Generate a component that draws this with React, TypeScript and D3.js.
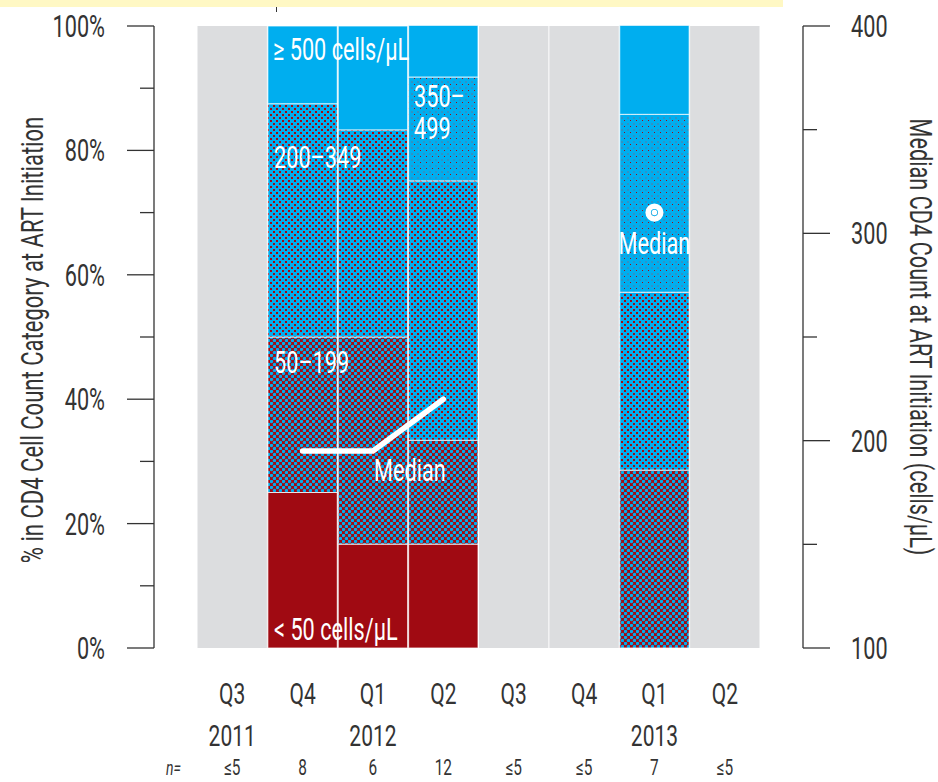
import React from "react";
import * as d3 from "d3";

const quarters = ["Q3", "Q4", "Q1", "Q2", "Q3", "Q4", "Q1", "Q2"];
const years = ["2011", "", "2012", "", "", "", "2013", ""];
const nCounts = ["≤5", "8", "6", "12", "≤5", "≤5", "7", "≤5"];
// percent of patients per CD4 category (null = n ≤ 5, not shown)
const lt50: (number | null)[] = [null, 25, 16.7, 16.7, null, null, 0, null];
const c50_199: (number | null)[] = [null, 25, 33.3, 16.7, null, null, 28.6, null];
const c200_349: (number | null)[] = [null, 37.5, 33.3, 41.7, null, null, 28.6, null];
const c350_499: (number | null)[] = [null, 0, 0, 16.7, null, null, 28.6, null];
const ge500: (number | null)[] = [null, 12.5, 16.7, 8.3, null, null, 14.3, null];
const medians: (number | null)[] = [null, 195, 195, 220, null, null, 310, null];
const leftTicks = [0, 20, 40, 60, 80, 100];
const rightTicks = [100, 200, 300, 400];

const FONT = "Roboto, 'Liberation Sans', sans-serif";
const SX = 0.7;
const BLUE = "#00aeef";
const RED = "#a00a12";
const GRAY = "#dcdddf";
const INK = "#333333";

type TP = {
  x: number;
  y: number;
  size: number;
  fill?: string;
  anchor?: "start" | "middle" | "end";
  rotate?: number;
  italic?: boolean;
  children: React.ReactNode;
};
function T({ x, y, size, fill = INK, anchor = "start", rotate = 0, italic, children }: TP) {
  return (
    <text
      transform={`translate(${x},${y}) rotate(${rotate}) scale(${SX},1)`}
      fontSize={size}
      fill={fill}
      textAnchor={anchor}
      fontStyle={italic ? "italic" : "normal"}
    >
      {children}
    </text>
  );
}

export default function App() {
  const W = 938, H = 782;
  const idx = quarters.map((_, i) => i);
  const x = d3.scaleBand<number>().domain(idx).range([197, 760]).padding(0);
  const y = d3.scaleLinear().domain([0, 100]).range([648, 26]);
  const yR = d3.scaleLinear().domain([100, 400]).range([648, 26]);
  const bw = x.bandwidth();

  const series = [
    { key: "lt50", vals: lt50, fill: RED },
    { key: "c50", vals: c50_199, fill: "url(#p50)" },
    { key: "c200", vals: c200_349, fill: "url(#p200)" },
    { key: "c350", vals: c350_499, fill: "url(#p350)" },
    { key: "ge500", vals: ge500, fill: BLUE },
  ];

  const segs: { i: number; y0: number; y1: number; fill: string; key: string }[] = [];
  idx.forEach((i) => {
    let acc = 0;
    series.forEach((s) => {
      const v = s.vals[i];
      if (v === null || v === undefined) return;
      if (v > 0) segs.push({ i, y0: acc, y1: acc + v, fill: s.fill, key: s.key });
      acc += v;
    });
  });

  const pts = idx.map((i) => ({ i, v: medians[i] }));
  const line = d3
    .line<{ i: number; v: number | null }>()
    .defined((d) => d.v !== null)
    .x((d) => (x(d.i) as number) + bw / 2)
    .y((d) => yR(d.v as number));
  const isolated = pts.filter(
    (d, k) => d.v !== null && (k === 0 || pts[k - 1].v === null) && (k === pts.length - 1 || pts[k + 1].v === null)
  );

  const leftMinor = y.ticks(10);
  const rightMinor = d3.range(150, 400, 100);
  const cx = (i: number) => (x(i) as number) + bw / 2;
  const LS = 31;

  return (
    <svg width={W} height={H} style={{ position: "absolute", left: 0, top: 0, background: "#fff" }} fontFamily={FONT}>
      <defs>
        <pattern id="p50" width="6" height="6" patternUnits="userSpaceOnUse">
          <rect width="6" height="6" fill={RED} />
          <circle cx="1.5" cy="1.5" r="1.7" fill={BLUE} />
          <circle cx="4.5" cy="4.5" r="1.7" fill={BLUE} />
        </pattern>
        <pattern id="p200" width="6" height="6" patternUnits="userSpaceOnUse">
          <rect width="6" height="6" fill={BLUE} shapeRendering="crispEdges" />
          <rect x="0" y="0" width="2" height="2" fill={RED} shapeRendering="crispEdges" />
          <rect x="3" y="3" width="2" height="2" fill={RED} shapeRendering="crispEdges" />
        </pattern>
        <pattern id="p350" width="6" height="6" patternUnits="userSpaceOnUse">
          <rect width="6" height="6" fill={BLUE} shapeRendering="crispEdges" />
          <rect x="0" y="0" width="1" height="1" fill={RED} shapeRendering="crispEdges" />
          <rect x="3" y="3" width="2" height="2" fill="#2f93c6" shapeRendering="crispEdges" />
        </pattern>
      </defs>

      {/* top band remnant */}
      <rect x={0} y={0} width={783} height={7} fill="#fff8c4" />
      <line x1={276.5} x2={276.5} y1={7} y2={12} stroke={INK} strokeWidth={1} />

      {/* gray background per band */}
      {idx.map((i) => (
        <rect key={"bg" + i} x={(x(i) as number) + 0.5} y={y(100)} width={bw - 1} height={y(0) - y(100)} fill={GRAY} />
      ))}

      {/* stacked segments */}
      {segs.map((s, k) => (
        <rect
          key={k}
          x={(x(s.i) as number) + 0.5}
          y={y(s.y1)}
          width={bw - 1}
          height={y(s.y0) - y(s.y1)}
          fill={s.fill}
          stroke="#ffffff"
          strokeOpacity={0.75}
          strokeWidth={1}
        />
      ))}

      {/* in-bar labels */}
      <T x={273} y={60} size={LS} fill="#fff">≥ 500 cells/µL</T>
      <T x={274} y={168} size={LS} fill="#fff">200–349</T>
      <T x={414} y={107} size={LS} fill="#fff">350–</T>
      <T x={414} y={139} size={LS} fill="#fff">499</T>
      <T x={274} y={373} size={LS} fill="#fff">50–199</T>
      <T x={274} y={640} size={LS} fill="#fff">&lt; 50 cells/µL</T>
      <T x={374} y={481} size={LS} fill="#fff">Median</T>
      <T x={cx(6)} y={254} size={LS} fill="#fff" anchor="middle">Median</T>

      {/* median line */}
      <path d={line(pts) || ""} fill="none" stroke="#fff" strokeWidth={5.5} strokeLinecap="round" strokeLinejoin="round" />
      {isolated.map((d) => (
        <circle key={"m" + d.i} cx={cx(d.i)} cy={yR(d.v as number)} r={6.3} fill="none" stroke="#fff" strokeWidth={5.5} />
      ))}

      {/* left axis */}
      <g stroke={INK} strokeWidth={1.3}>
        <line x1={154} x2={154} y1={y(100)} y2={y(0)} />
        {leftMinor.map((t) => (
          <line key={t} x1={leftTicks.includes(t) ? 127 : 140} x2={154} y1={y(t)} y2={y(t)} />
        ))}
      </g>
      {leftTicks.map((t) => (
        <T key={t} x={105} y={y(t) + 11} size={31} anchor="end">
          {t}%
        </T>
      ))}
      <T x={43} y={(y(0) + y(100)) / 2 + 3} size={31.5} anchor="middle" rotate={-90}>
        % in CD4 Cell Count Category at ART Initiation
      </T>

      {/* right axis */}
      <g stroke={INK} strokeWidth={1.3}>
        <line x1={803} x2={803} y1={yR(400)} y2={yR(100)} />
        {rightTicks.map((t) => (
          <line key={t} x1={803} x2={830} y1={yR(t)} y2={yR(t)} />
        ))}
        {rightMinor.map((t) => (
          <line key={"m" + t} x1={803} x2={817} y1={yR(t)} y2={yR(t)} />
        ))}
      </g>
      {rightTicks.map((t) => (
        <T key={t} x={851} y={yR(t) + 11} size={31}>
          {t}
        </T>
      ))}
      <T x={910} y={(y(0) + y(100)) / 2} size={31} anchor="middle" rotate={90}>
        Median CD4 Count at ART Initiation (cells/µL)
      </T>

      {/* bottom labels */}
      {idx.map((i) => (
        <T key={"q" + i} x={cx(i)} y={704} size={30} anchor="middle">
          {quarters[i]}
        </T>
      ))}
      {idx.map((i) =>
        years[i] ? (
          <T key={"y" + i} x={cx(i)} y={746} size={30} anchor="middle">
            {years[i]}
          </T>
        ) : null
      )}
      {idx.map((i) => (
        <T key={"n" + i} x={cx(i)} y={775} size={22} anchor="middle">
          {nCounts[i]}
        </T>
      ))}
      <T x={181} y={775} size={20} anchor="end" italic>
        n=
      </T>
    </svg>
  );
}
